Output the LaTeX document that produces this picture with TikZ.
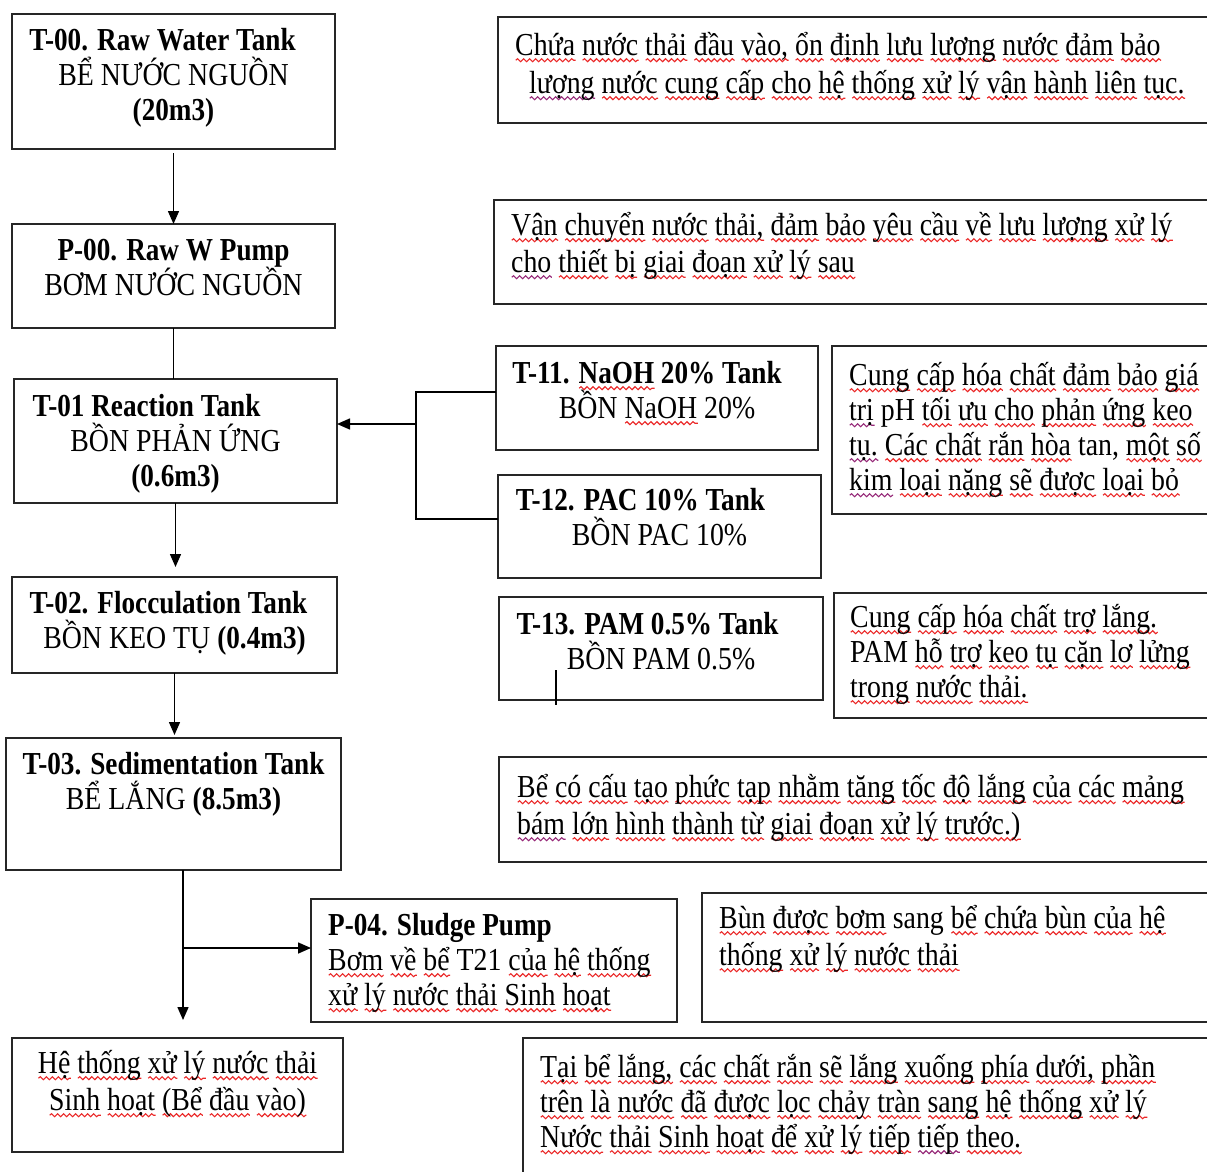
\documentclass[tikz,border=0pt]{standalone}
\usepackage{fontspec}
\setmainfont{Liberation Serif}[FakeStretch=0.87, BoldFeatures={FakeStretch=0.85}]
\usetikzlibrary{arrows.meta, decorations.pathmorphing}
\newcommand\bodyfont{\fontsize{32}{35}\selectfont\lineskiplimit=-100pt\lineskip=0pt}
\newcommand\topstrut{\rule{0pt}{34pt}}
\definecolor{spellred}{RGB}{235,40,40}
\definecolor{spellpurple}{RGB}{150,40,120}
% wavy proofing underline under single words
\newsavebox\wavebox
\newcommand\waveword[2]{\sbox\wavebox{#2}\leavevmode\rlap{\tikz[baseline=0pt, x=1pt, y=1pt]\draw[#1, line width=1.1pt, decorate, decoration={snake, amplitude=1.5pt, segment length=6pt}] (0,-5) -- (\the\wd\wavebox,-5);}\usebox\wavebox}
\def\sqA#1 #2\sqEnd{\waveword{spellred}{#1}\ifx\relax#2\relax\else\space\sqA#2\sqEnd\fi}
\newcommand\sq[1]{\sqA#1 \sqEnd}
\newcommand\pw[1]{\waveword{spellpurple}{#1}}
\tikzset{
  box/.style={draw=black!85, line width=1.8pt, rectangle, inner sep=0pt, outer sep=0pt},
  ctxt/.style={anchor=north, inner sep=0pt, align=center, font=\bodyfont},
  ltxt/.style={anchor=north west, inner sep=0pt, align=left, font=\bodyfont},
  link/.style={draw=black, line width=1.5pt},
  arr/.style={link, -{Triangle[length=13pt,width=11pt]}},
}
% draw a box from its upper-left corner (x,y) with width w and height h
\newcommand\boxat[5]{\node[box, anchor=north west, minimum width=#4, minimum height=#5] (#1) at (#2,#3) {};}
\begin{document}
\begin{tikzpicture}[x=1pt, y=-1pt]
\clip (0,0) rectangle (1207,1172);
\useasboundingbox (0,0) rectangle (1207,1172);
\fill[white] (0,0) rectangle (1207,1172);

% ---- process line (left column) ----
\boxat{t00}{12}{14}{323}{135}
\boxat{p00}{12}{224}{323}{104}
\boxat{t01}{14}{379}{323}{124}
\boxat{t02}{12}{577}{325}{96}
\boxat{t03}{6}{738}{335}{132}
\boxat{out}{12}{1038}{331}{114}
\boxat{p04}{311}{899}{366}{123}

% ---- dosing tanks ----
\boxat{t11}{496}{346}{322}{104}
\boxat{t12}{498}{475}{323}{103}
\boxat{t13}{499}{597}{324}{103}

% ---- description boxes ----
\boxat{r1}{498}{17}{730}{106}
\boxat{r2}{494}{200}{734}{104}
\boxat{r3}{832}{346}{400}{168}
\boxat{r4}{834}{593}{400}{125}
\boxat{r5}{499}{757}{730}{105}
\boxat{r6}{702}{893}{530}{129}
\boxat{r7}{523}{1038}{710}{160}

% ---- texts ----
\node[ctxt] (t00txt) at (173.5,16) {\topstrut\textbf{T-00. Raw Water Tank}\hspace*{22pt}\\ BỂ NƯỚC NGUỒN\\ \textbf{(20m3)}};
\node[ctxt] (p00txt) at (173.5,226) {\topstrut\textbf{P-00. Raw W Pump}\\ BƠM NƯỚC NGUỒN};
\node[ctxt] (t01txt) at (175.5,382) {\topstrut\textbf{T-01 Reaction Tank}\hspace*{58pt}\\ BỒN PHẢN ỨNG\\ \textbf{(0.6m3)}};
\node[ctxt] (t02txt) at (174.5,579) {\topstrut\textbf{T-02. Flocculation Tank}\hspace*{12pt}\\ BỒN KEO TỤ \textbf{(0.4m3)}};
\node[ctxt] (t03txt) at (173.5,740) {\topstrut\textbf{T-03. Sedimentation Tank}\\ BỂ LẮNG \textbf{(8.5m3)}};
\node[ctxt] (outtxt) at (177.5,1039) {\topstrut\sq{Hệ thống xử lý nước thải}\\[2pt] \sq{Sinh hoạt (Bể đầu vào)}};
\node[ltxt] (p04txt) at (328,901) {\topstrut\textbf{P-04. Sludge Pump}\\ \sq{Bơm về bể} T21 \sq{của hệ thống}\\ \sq{xử lý nước thải Sinh hoạt}};

\node[ctxt] (t11txt) at (657,349) {\topstrut\textbf{T-11. \sq{NaOH} 20\% Tank}\hspace*{20pt}\\ BỒN \sq{NaOH} 20\%};
\node[ctxt] (t12txt) at (659.5,476) {\topstrut\textbf{T-12. PAC 10\% Tank}\hspace*{38pt}\\ BỒN PAC 10\%};
\node[ctxt] (t13txt) at (661,600) {\topstrut\textbf{T-13. PAM 0.5\% Tank}\hspace*{27pt}\\ BỒN PAM 0.5\%};

\node[ltxt] (r1txt) at (515,21) {\topstrut\sq{Chứa nước thải đầu vào, ổn định lưu lượng nước đảm bảo}\\[3pt] \hspace*{14pt}\pw{lượng} \sq{nước cung cấp cho hệ thống xử lý vận hành liên tục.}};
\node[ltxt] (r2txt) at (511,201) {\topstrut\sq{Vận chuyển nước thải, đảm bảo yêu cầu về lưu lượng xử lý}\\[2pt] \pw{cho} \sq{thiết bị giai đoạn xử lý sau}};
\node[ltxt] (r3txt) at (849,351) {\topstrut\sq{Cung cấp hóa chất đảm bảo giá}\\ \pw{trị} pH \sq{tối ưu cho phản ứng keo}\\ \pw{tụ.} \sq{Các chất rắn hòa} tan, \sq{một số}\\ \pw{kim} \sq{loại nặng sẽ được loại bỏ}};
\node[ltxt] (r4txt) at (850,593) {\topstrut\sq{Cung cấp hóa chất trợ lắng.}\\ PAM \sq{hỗ trợ keo tụ cặn lơ lửng}\\ \sq{trong nước thải.}};
\node[ltxt] (r5txt) at (517,763) {\topstrut\sq{Bể có cấu tạo phức tạp nhằm tăng tốc độ lắng của các mảng}\\[2pt] \pw{bám} \sq{lớn hình thành từ giai đoạn xử lý trước.)}};
\node[ltxt] (r6txt) at (719,894) {\topstrut\sq{Bùn được bơm} sang \sq{bể chứa bùn của hệ}\\[2pt] \sq{thống xử lý nước thải}};
\node[ltxt] (r7txt) at (540,1043) {\topstrut\sq{Tại bể lắng, các chất rắn sẽ lắng xuống phía dưới, phần}\\ \sq{trên là nước đã được lọc chảy tràn sang hệ thống xử lý}\\ \sq{Nước thải Sinh hoạt để xử lý tiếp} \pw{tiếp} \sq{theo.}};

% ---- connectors ----
\draw[arr, shorten <=4pt] (t00.south) -- (p00.north);
\draw[link] (p00.south) -- (p00.south |- t01.north);
\draw[arr, shorten >=10pt] (t01.south) -- (t01.south |- t02.north);
\draw[arr, shorten >=3pt] (t02.south) -- (t02.south |- t03.north);

% chemical dosing header into the reaction tank
\coordinate (bus) at (416,424);
\draw[link] ([yshift=6pt]t11.west) -| (bus) |- ([yshift=7.5pt]t12.west);
\draw[arr] (bus) -- (bus -| t01.east);

% sedimentation outlet: sludge to pump, clear water onwards
\coordinate (split) at (183,948);
\draw[link] (split |- t03.south) -- (split);
\draw[arr] (split) -- (split -| p04.west);
\draw[arr, shorten >=18pt] (split) -- (split |- out.north);

% short tick in the PAM tank box
\draw[link, line width=1.2pt] (556,670) -- (556,705);
\end{tikzpicture}
\end{document}
